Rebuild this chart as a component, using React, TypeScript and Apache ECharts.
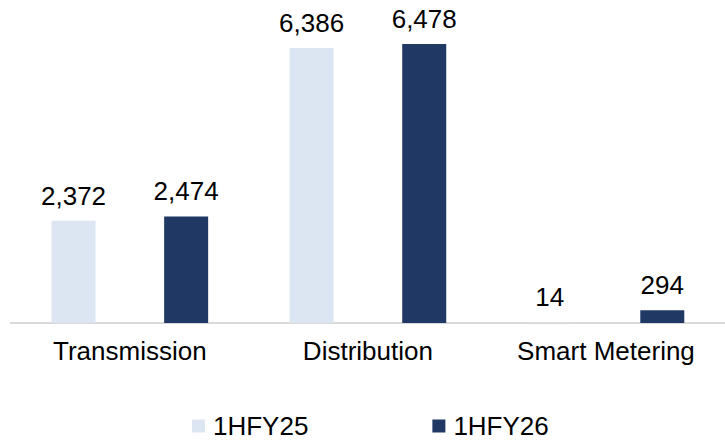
import React, { useEffect, useRef } from "react";
import * as echarts from "echarts";

const categories = ["Transmission", "Distribution", "Smart Metering"];
const seriesNames = ["1HFY25", "1HFY26"];
const values1HFY25 = [2372, 6386, 14];
const values1HFY26 = [2474, 6478, 294];
const colors = ["#DCE6F2", "#1F3864"];

const FONT = "'Liberation Sans', Arial, sans-serif";

export default function App() {
  const ref = useRef<HTMLDivElement>(null);
  useEffect(() => {
    if (!ref.current) return;
    const chart = echarts.init(ref.current, undefined, { renderer: "svg" });
    const fmt = (p: any) => Number(p.value).toLocaleString("en-US");
    const mk = (name: string, data: number[], color: string) => ({
      name,
      type: "bar",
      data,
      barWidth: 44,
      barGap: "156%",
      itemStyle: { color },
      label: {
        show: true,
        position: "top",
        distance: 12,
        formatter: fmt,
        fontSize: 26,
        fontFamily: FONT,
        color: "#000",
      },
    });
    chart.setOption({
      animation: false,
      textStyle: { fontFamily: FONT },
      grid: { left: 10.8, right: -7, top: 21.5, bottom: 118, containLabel: false },
      legend: {
        left: 192,
        top: 413,
        padding: 0,
        itemWidth: 13,
        itemHeight: 13,
        itemGap: 124,
        icon: "rect",
        textStyle: { fontSize: 26, color: "#000", fontFamily: FONT, padding: [0, 0, 0, 3] },
        data: seriesNames,
      },
      xAxis: {
        type: "category",
        data: categories,
        axisLine: { show: true, lineStyle: { color: "#D9D9D9", width: 2 } },
        axisTick: { show: false },
        axisLabel: { fontSize: 26, color: "#000", margin: 15, interval: 0, fontFamily: FONT },
      },
      yAxis: {
        type: "value",
        min: 0,
        max: 7000,
        show: false,
        splitLine: { show: false },
      },
      series: [
        mk(seriesNames[0], values1HFY25, colors[0]),
        mk(seriesNames[1], values1HFY26, colors[1]),
      ],
    });
    return () => chart.dispose();
  }, []);
  return (
    <div
      ref={ref}
      style={{ position: "absolute", left: 0, top: 0, width: 725, height: 441, background: "#fff" }}
    />
  );
}
